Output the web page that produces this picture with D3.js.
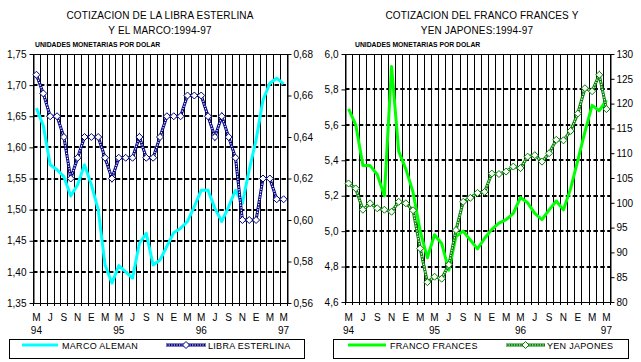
<!DOCTYPE html>
<html>
<head>
<meta charset="utf-8">
<script src="https://cdn.jsdelivr.net/npm/d3@7"></script>
<style>
    body { margin: 0; background: #fff; }
    svg { display: block; font-family: "Liberation Sans", Arial, sans-serif; }
</style>
</head>
<body>
<svg id="chart" width="641" height="362"></svg>
<script>
// meses mayo 1994 - mayo 1997
const months = ['M', 'J', 'J', 'A', 'S', 'O', 'N', 'D', 'E', 'F', 'M', 'A',
    'M', 'J', 'J', 'A', 'S', 'O', 'N', 'D', 'E', 'F', 'M', 'A',
    'M', 'J', 'J', 'A', 'S', 'O', 'N', 'D', 'E', 'F', 'M', 'A',
    'M'];
const yearIndex = [0, 12, 24, 36];
const yearText = ['94', '95', '96', '97'];

const marcoAleman = [1.663, 1.635, 1.572, 1.564, 1.553, 1.522, 1.540, 1.572, 1.540, 1.500,
    1.411, 1.382, 1.410, 1.400, 1.390, 1.446, 1.462, 1.411, 1.419, 1.441,
    1.463, 1.470, 1.481, 1.505, 1.531, 1.531, 1.502, 1.481, 1.505, 1.531,
    1.510, 1.564, 1.612, 1.676, 1.703, 1.711, 1.702];
const libraEsterlina = [0.670, 0.661, 0.650, 0.650, 0.640, 0.620, 0.630, 0.640, 0.640, 0.640,
    0.630, 0.620, 0.630, 0.630, 0.630, 0.640, 0.630, 0.630, 0.640, 0.650,
    0.650, 0.650, 0.660, 0.660, 0.660, 0.650, 0.640, 0.650, 0.640, 0.630,
    0.600, 0.600, 0.600, 0.620, 0.620, 0.610, 0.610];
const francoFrances = [5.69, 5.60, 5.37, 5.37, 5.32, 5.20, 5.93, 5.45, 5.35, 5.22,
    5.00, 4.85, 4.98, 4.93, 4.78, 4.97, 5.00, 4.95, 4.90, 4.96,
    5.01, 5.045, 5.065, 5.10, 5.19, 5.16, 5.10, 5.065, 5.12, 5.17,
    5.12, 5.24, 5.40, 5.56, 5.71, 5.68, 5.74];
const yenJapones = [103.9, 102.9, 98.6, 99.9, 98.9, 98.6, 98.2, 100.2, 99.9, 98.5,
    90.8, 84.0, 85.1, 84.7, 87.5, 94.5, 100.2, 101.0, 102.0, 102.2,
    105.9, 105.8, 106.3, 107.3, 107.0, 109.3, 109.6, 108.3, 110.0, 112.7,
    112.6, 114.5, 118.0, 123.1, 122.5, 125.8, 118.9];

const ticksMarco = [1.35, 1.40, 1.45, 1.50, 1.55, 1.60, 1.65, 1.70, 1.75];
const ticksLibra = [0.56, 0.58, 0.60, 0.62, 0.64, 0.66, 0.68];
const ticksFranco = [4.6, 4.8, 5.0, 5.2, 5.4, 5.6, 5.8, 6.0];
const ticksYen = [80, 85, 90, 95, 100, 105, 110, 115, 120, 125, 130];

const svg = d3.select('#chart');

const comma = f => d => d3.format(f)(d).replace('.', ',');

const panels = [{
    left: 33, right: 287, top: 54, bottom: 303,
    title: ['COTIZACION DE LA LIBRA ESTERLINA', 'Y EL MARCO:1994-97'],
    titleX: [160, 160],
    subX: 35,
    leftTicks: ticksMarco, leftFmt: comma('.2f'),
    rightTicks: ticksLibra, rightFmt: comma('.2f'),
    main: { name: 'MARCO ALEMAN', values: marcoAleman, color: '#00ffff' },
    second: { name: 'LIBRA ESTERLINA', values: libraEsterlina, color: '#000080' },
    legend: { x1: 9, x2: 304, line: [22, 58], text1: 62, marker: [166, 206], text2: 208 }
}, {
    left: 345, right: 610, top: 54, bottom: 302,
    title: ['COTIZACION DEL FRANCO FRANCES Y', 'YEN JAPONES:1994-97'],
    titleX: [482, 477],
    subX: 355,
    leftTicks: ticksFranco, leftFmt: comma('.1f'),
    rightTicks: ticksYen, rightFmt: d3.format('d'),
    main: { name: 'FRANCO FRANCES', values: francoFrances, color: '#00ff00' },
    second: { name: 'YEN JAPONES', values: yenJapones, color: '#008000' },
    legend: { x1: 333, x2: 628, line: [348, 386], text1: 390, marker: [506, 545], text2: 547 }
}];

function diamond(g, cx, cy, color) {
    g.append('path')
        .attr('d', `M${cx},${cy - 3.5}L${cx + 3.5},${cy}L${cx},${cy + 3.5}L${cx - 3.5},${cy}Z`)
        .attr('fill', '#fff')
        .attr('stroke', color)
        .attr('stroke-width', 1);
}

// linea tipo cadena (color con puntos blancos)
function chainLine(g, pathD, color) {
    g.append('path').attr('d', pathD).attr('fill', 'none')
        .attr('stroke', color).attr('stroke-width', 3);
    g.append('path').attr('d', pathD).attr('fill', 'none')
        .attr('stroke', '#fff').attr('stroke-width', 1.2).attr('stroke-dasharray', '1.3,1.3');
}

function drawPanel(p) {
    const g = svg.append('g');
    const x = d3.scaleBand().domain(d3.range(months.length)).range([p.left, p.right]);
    const cx = i => x(i) + x.bandwidth() / 2;
    const yL = d3.scaleLinear().domain(d3.extent(p.leftTicks)).range([p.bottom, p.top]);
    const yR = d3.scaleLinear().domain(d3.extent(p.rightTicks)).range([p.bottom, p.top]);

    // titulos
    g.selectAll('text.title').data(p.title).enter().append('text')
        .attr('x', (_, i) => p.titleX[i])
        .attr('y', (_, i) => 18.5 + 15 * i)
        .attr('text-anchor', 'middle')
        .attr('font-size', 10)
        .attr('letter-spacing', 0.15)
        .text(d => d);
    g.append('text')
        .attr('x', p.subX).attr('y', 46.5)
        .attr('font-size', 6.8).attr('font-weight', 'bold')
        .text('UNIDADES MONETARIAS POR DOLAR');

    // rejilla horizontal punteada
    g.selectAll('line.hgrid').data(p.leftTicks.slice(1, -1)).enter().append('line')
        .attr('x1', p.left).attr('x2', p.right)
        .attr('y1', d => Math.round(yL(d))).attr('y2', d => Math.round(yL(d)))
        .attr('stroke', '#000').attr('stroke-width', 2)
        .attr('stroke-dasharray', '4.5,2.4');

    // rejilla vertical (limites de categoria)
    const bounds = x.domain().map(i => x(i)).concat([p.right]);
    g.selectAll('line.vgrid').data(bounds).enter().append('line')
        .attr('x1', d => Math.round(d) + 0.5).attr('x2', d => Math.round(d) + 0.5)
        .attr('y1', p.top).attr('y2', p.bottom + 3)
        .attr('stroke', '#000').attr('stroke-width', 1);

    g.append('line')
        .attr('x1', p.left).attr('x2', p.right)
        .attr('y1', p.top + 0.5).attr('y2', p.top + 0.5)
        .attr('stroke', '#000');
    g.append('line')
        .attr('x1', p.left).attr('x2', p.right)
        .attr('y1', p.bottom + 0.5).attr('y2', p.bottom + 0.5)
        .attr('stroke', '#000');

    // ejes
    const axL = g.append('g')
        .attr('transform', `translate(${Math.round(p.left) + 0.5},0)`)
        .call(d3.axisLeft(yL).tickValues(p.leftTicks).tickFormat(p.leftFmt).tickSize(4).tickPadding(3).tickSizeOuter(0));
    const axR = g.append('g')
        .attr('transform', `translate(${Math.round(p.right) + 0.5},0)`)
        .call(d3.axisRight(yR).tickValues(p.rightTicks).tickFormat(p.rightFmt).tickSize(4).tickPadding(2).tickSizeOuter(0));
    [axL, axR].forEach(ax => {
        ax.attr('font-family', null).attr('font-size', 10);
        ax.selectAll('line,path').attr('stroke', '#000');
        ax.selectAll('text').attr('fill', '#000');
    });

    // etiquetas de meses (cada dos) y años
    const labelIdx = d3.range(0, months.length, 2);
    g.selectAll('text.month').data(labelIdx).enter().append('text')
        .attr('x', d => cx(d))
        .attr('y', 320.5)
        .attr('text-anchor', 'middle').attr('font-size', 10)
        .text(d => months[d]);
    g.selectAll('text.year').data(yearText).enter().append('text')
        .attr('x', (_, i) => cx(yearIndex[i]))
        .attr('y', 334)
        .attr('text-anchor', 'middle').attr('font-size', 10)
        .text(d => d);

    // series
    const lineL = d3.line().x((_, i) => cx(i)).y(d => yL(d));
    const lineR = d3.line().x((_, i) => cx(i)).y(d => yR(d));
    g.append('path')
        .attr('d', lineL(p.main.values))
        .attr('fill', 'none')
        .attr('stroke', p.main.color)
        .attr('stroke-width', 3)
        .attr('stroke-linejoin', 'round');
    chainLine(g, lineR(p.second.values), p.second.color);
    p.second.values.forEach((d, i) => diamond(g, cx(i), yR(d), p.second.color));

    // leyenda
    const lg = p.legend;
    g.append('rect')
        .attr('x', lg.x1 + 0.5).attr('y', 339.5)
        .attr('width', lg.x2 - lg.x1).attr('height', 19)
        .attr('fill', 'none').attr('stroke', '#000');
    g.append('line')
        .attr('x1', lg.line[0]).attr('x2', lg.line[1])
        .attr('y1', 345).attr('y2', 345)
        .attr('stroke', p.main.color).attr('stroke-width', 3);
    g.append('text')
        .attr('x', lg.text1).attr('y', 348.5)
        .attr('font-size', 9).attr('letter-spacing', 0.3)
        .text(p.main.name);
    chainLine(g, `M${lg.marker[0]},345L${lg.marker[1]},345`, p.second.color);
    diamond(g, (lg.marker[0] + lg.marker[1]) / 2, 345, p.second.color);
    g.append('text')
        .attr('x', lg.text2).attr('y', 348.5)
        .attr('font-size', 9).attr('letter-spacing', 0.3)
        .text(p.second.name);
}

panels.forEach(drawPanel);
</script>
</body>
</html>
